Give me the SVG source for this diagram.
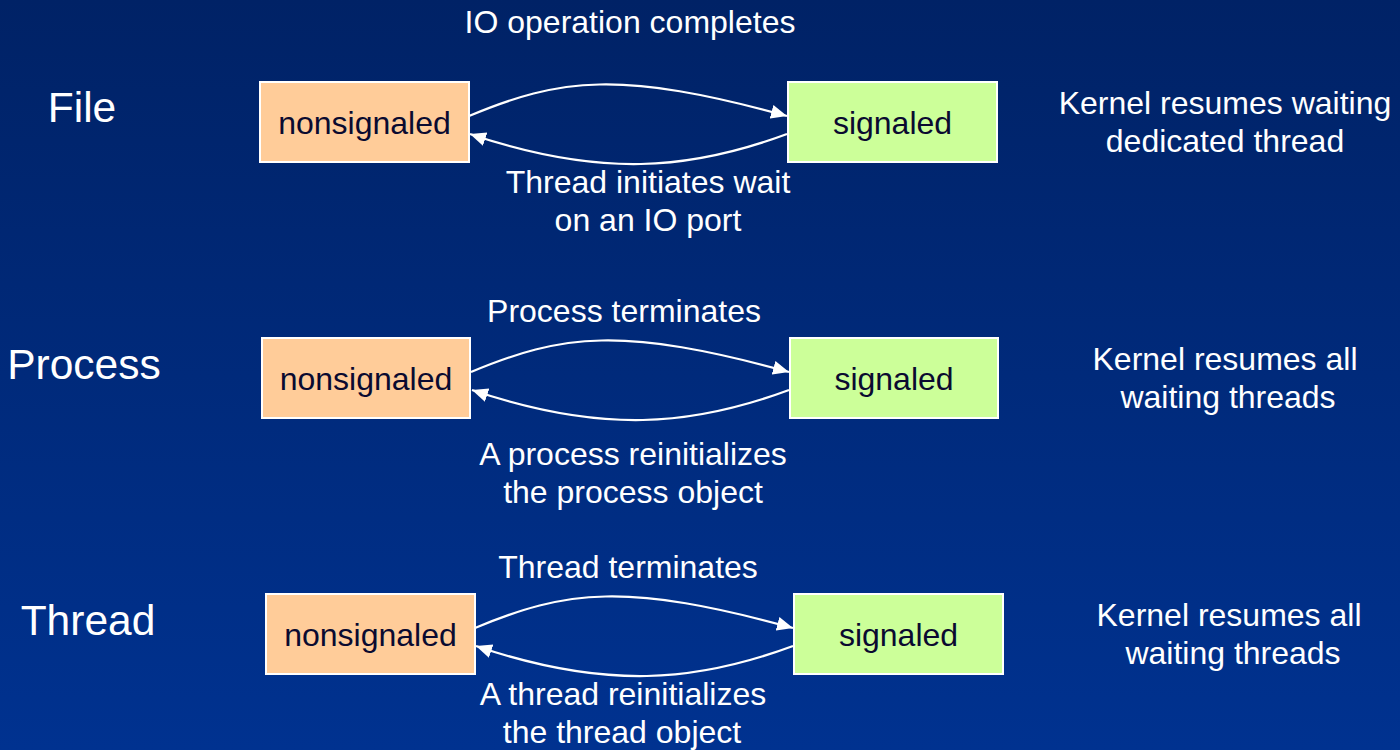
<svg xmlns="http://www.w3.org/2000/svg" width="1400" height="750" viewBox="0 0 1400 750">
<defs>
<linearGradient id="bg" x1="0" y1="0" x2="0" y2="1">
<stop offset="0" stop-color="#002266"/>
<stop offset="1" stop-color="#003290"/>
</linearGradient>
<marker id="ah" markerUnits="userSpaceOnUse" markerWidth="17" markerHeight="15" refX="16" refY="7" orient="auto" viewBox="0 0 17 15">
<path d="M0,0 L16,7 L0,14 z" fill="#ffffff"/>
</marker>
<style>
text{font-family:"Liberation Sans",Arial,sans-serif;fill:#ffffff;text-anchor:middle;}
.t{font-size:32px;}
.big{font-size:42.5px;}
.box text{fill:#0a0a30;font-size:32px;}
.ns{fill:#ffcc99;stroke:#ffffff;stroke-width:2;}
.sg{fill:#ccff99;stroke:#ffffff;stroke-width:2;}
.c{fill:none;stroke:#ffffff;stroke-width:2.2;marker-end:url(#ah);}
</style>
</defs>
<rect x="0" y="0" width="1400" height="750" fill="url(#bg)"/>

<g id="labels">
<text class="big" x="82" y="122">File</text>
<text class="big" x="84" y="379">Process</text>
<text class="big" x="88" y="635">Thread</text>
</g>

<g id="file-nonsignaled" class="box"><rect class="ns" x="260" y="82" width="209" height="80"/><text x="364.5" y="134">nonsignaled</text></g>
<g id="file-signaled" class="box"><rect class="sg" x="788" y="82" width="209" height="80"/><text x="892.5" y="134">signaled</text></g>
<g id="process-nonsignaled" class="box"><rect class="ns" x="262" y="338" width="208" height="80"/><text x="366" y="390">nonsignaled</text></g>
<g id="process-signaled" class="box"><rect class="sg" x="790" y="338" width="208" height="80"/><text x="894" y="390">signaled</text></g>
<g id="thread-nonsignaled" class="box"><rect class="ns" x="266" y="594" width="209" height="80"/><text x="370.5" y="646">nonsignaled</text></g>
<g id="thread-signaled" class="box"><rect class="sg" x="794" y="594" width="209" height="80"/><text x="898.5" y="646">signaled</text></g>

<g id="connectors">
<path class="c" d="M469,116 C560,78 620,70 787,116"/>
<path class="c" d="M787,134 C690,170 600,178 470,134"/>
<path class="c" d="M471,372 C562,334 622,326 789,372"/>
<path class="c" d="M789,390 C692,426 602,434 472,390"/>
<path class="c" d="M475,628 C566,590 626,582 793,628"/>
<path class="c" d="M793,646 C696,682 606,690 476,646"/>
</g>

<g id="edge-labels">
<text class="t" x="630" y="33">IO operation completes</text>
<text class="t" x="648" y="193">Thread initiates wait</text>
<text class="t" x="648" y="231">on an IO port</text>
<text class="t" x="624" y="322">Process terminates</text>
<text class="t" x="633" y="465">A process reinitializes</text>
<text class="t" x="633" y="503">the process object</text>
<text class="t" x="628" y="578">Thread terminates</text>
<text class="t" x="623" y="705">A thread reinitializes</text>
<text class="t" x="622" y="743">the thread object</text>
</g>

<g id="notes">
<text class="t" x="1225" y="114">Kernel resumes waiting</text>
<text class="t" x="1225" y="152">dedicated thread</text>
<text class="t" x="1225" y="370">Kernel resumes all</text>
<text class="t" x="1228" y="408">waiting threads</text>
<text class="t" x="1229" y="626">Kernel resumes all</text>
<text class="t" x="1233" y="664">waiting threads</text>
</g>
</svg>
